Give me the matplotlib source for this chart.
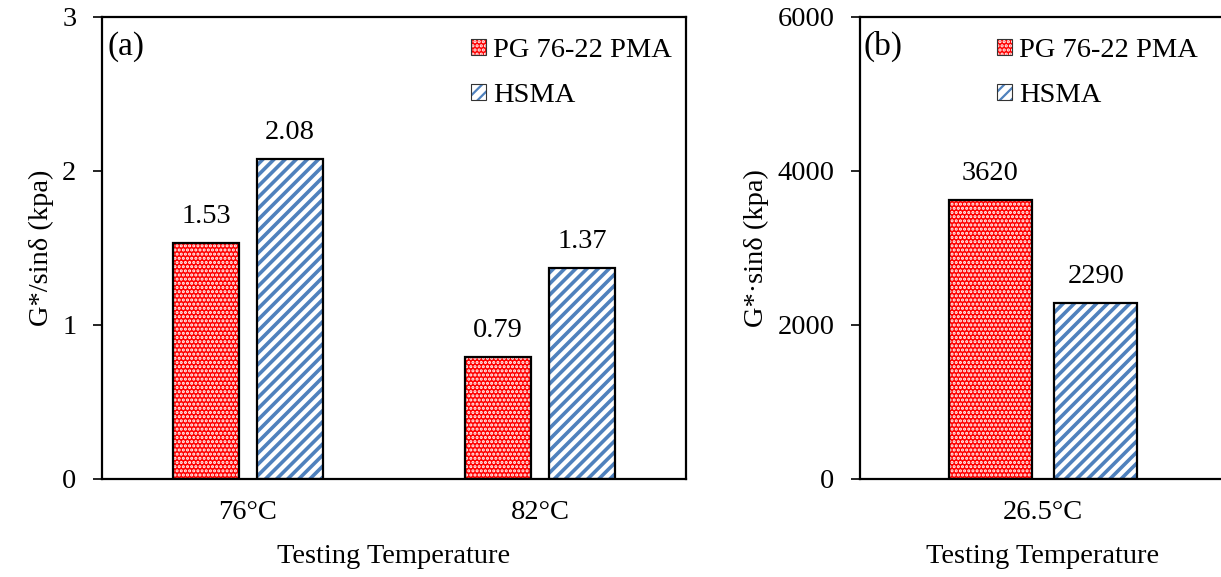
import matplotlib
matplotlib.use("Agg")
import matplotlib.pyplot as plt
from matplotlib.patches import Patch
from matplotlib.legend_handler import HandlerTuple

plt.rcParams['font.family'] = ['Liberation Serif', 'DejaVu Serif']
plt.rcParams['font.size'] = 20.5

series = ["PG 76-22 PMA", "HSMA"]
cats_a = ["76°C", "82°C"]
vals_a_pma = [1.53, 0.79]
vals_a_hsma = [2.08, 1.37]
labels_a_pma = ["1.53", "0.79"]
labels_a_hsma = ["2.08", "1.37"]
cats_b = ["26.5°C"]
vals_b_pma = [3620]
vals_b_hsma = [2290]
labels_b_pma = ["3620"]
labels_b_hsma = ["2290"]
yticks_a = [0, 1, 2, 3]
yticks_b = [0, 2000, 4000, 6000]

RED = "#FF0000"
BLUE = "#4F81BD"
W = 0.226
OFF = 0.144
DOT_LW = 1.5
STRIPE_LW = 2.6

W_PX, H_PX = 1221, 577
fig = plt.figure(figsize=(W_PX / 100, H_PX / 100), dpi=100)


def red_patch_kw():
    return dict(facecolor=RED, edgecolor="white", hatch="....", linewidth=0)


def blue_patch_kw():
    return dict(facecolor="white", edgecolor=BLUE, hatch="///", linewidth=0)


def draw_bars(ax, x, vals, kind):
    if kind == 0:
        plt.rcParams['hatch.linewidth'] = DOT_LW
        ax.bar(x, vals, W, zorder=2, **red_patch_kw())
    else:
        plt.rcParams['hatch.linewidth'] = STRIPE_LW
        ax.bar(x, vals, W, zorder=2, **blue_patch_kw())
    ax.bar(x, vals, W, fill=False, edgecolor="black", linewidth=1.6, zorder=3)


def panel(rect, cats, v1, v2, l1, l2, yticks, ylabel, tag):
    ax = fig.add_axes(rect)
    xs = list(range(len(cats)))
    x1 = [x - OFF for x in xs]
    x2 = [x + OFF for x in xs]
    draw_bars(ax, x1, v1, 0)
    draw_bars(ax, x2, v2, 1)
    for x, v, t in zip(x1, v1, l1):
        ax.annotate(t, (x, v), xytext=(0, 10), textcoords="offset points", ha="center", va="bottom")
    for x, v, t in zip(x2, v2, l2):
        ax.annotate(t, (x, v), xytext=(0, 10), textcoords="offset points", ha="center", va="bottom")
    ax.set_xlim(-0.5, len(cats) - 0.5)
    ax.set_ylim(yticks[0], yticks[-1])
    ax.set_yticks(yticks)
    ax.set_xticks(xs)
    ax.set_xticklabels(cats)
    ax.tick_params(axis="x", length=0, pad=15)
    ax.tick_params(axis="y", direction="out", length=6.5, width=1.2, pad=12)
    for s in ax.spines.values():
        s.set_linewidth(1.6)
    ax.set_xlabel("Testing Temperature", labelpad=14)
    ax.set_ylabel(ylabel, labelpad=6)
    ax.text(0.01, 0.97, tag, transform=ax.transAxes, ha="left", va="top", fontsize=24)
    return ax


BOT, TOP = 479, 17
ax_a = panel([102 / W_PX, (H_PX - BOT) / H_PX, 584 / W_PX, (BOT - TOP) / H_PX], cats_a,
             vals_a_pma, vals_a_hsma, labels_a_pma, labels_a_hsma, yticks_a, "G*/sinδ (kpa)", "(a)")
ax_b = panel([860 / W_PX, (H_PX - BOT) / H_PX, 366 / W_PX, (BOT - TOP) / H_PX], cats_b,
             vals_b_pma, vals_b_hsma, labels_b_pma, labels_b_hsma, yticks_b, "G*·sinδ (kpa)", "(b)")

plt.rcParams['hatch.linewidth'] = DOT_LW
h_red = Patch(**red_patch_kw())
plt.rcParams['hatch.linewidth'] = 1.6
h_blue = Patch(**blue_patch_kw())
outline = Patch(fill=False, edgecolor="#333333", linewidth=0.8)
handles = [(h_red, outline), (h_blue, outline)]

for x0 in (460, 986):
    fig.legend(handles, series, loc="upper left", bbox_to_anchor=(x0 / W_PX, 1 - 27 / H_PX),
               frameon=False, handlelength=0.5, handleheight=0.5, handletextpad=0.25,
               labelspacing=0.7, borderaxespad=0, handler_map={tuple: HandlerTuple(ndivide=1)})

fig.savefig("out.png", dpi=100)
